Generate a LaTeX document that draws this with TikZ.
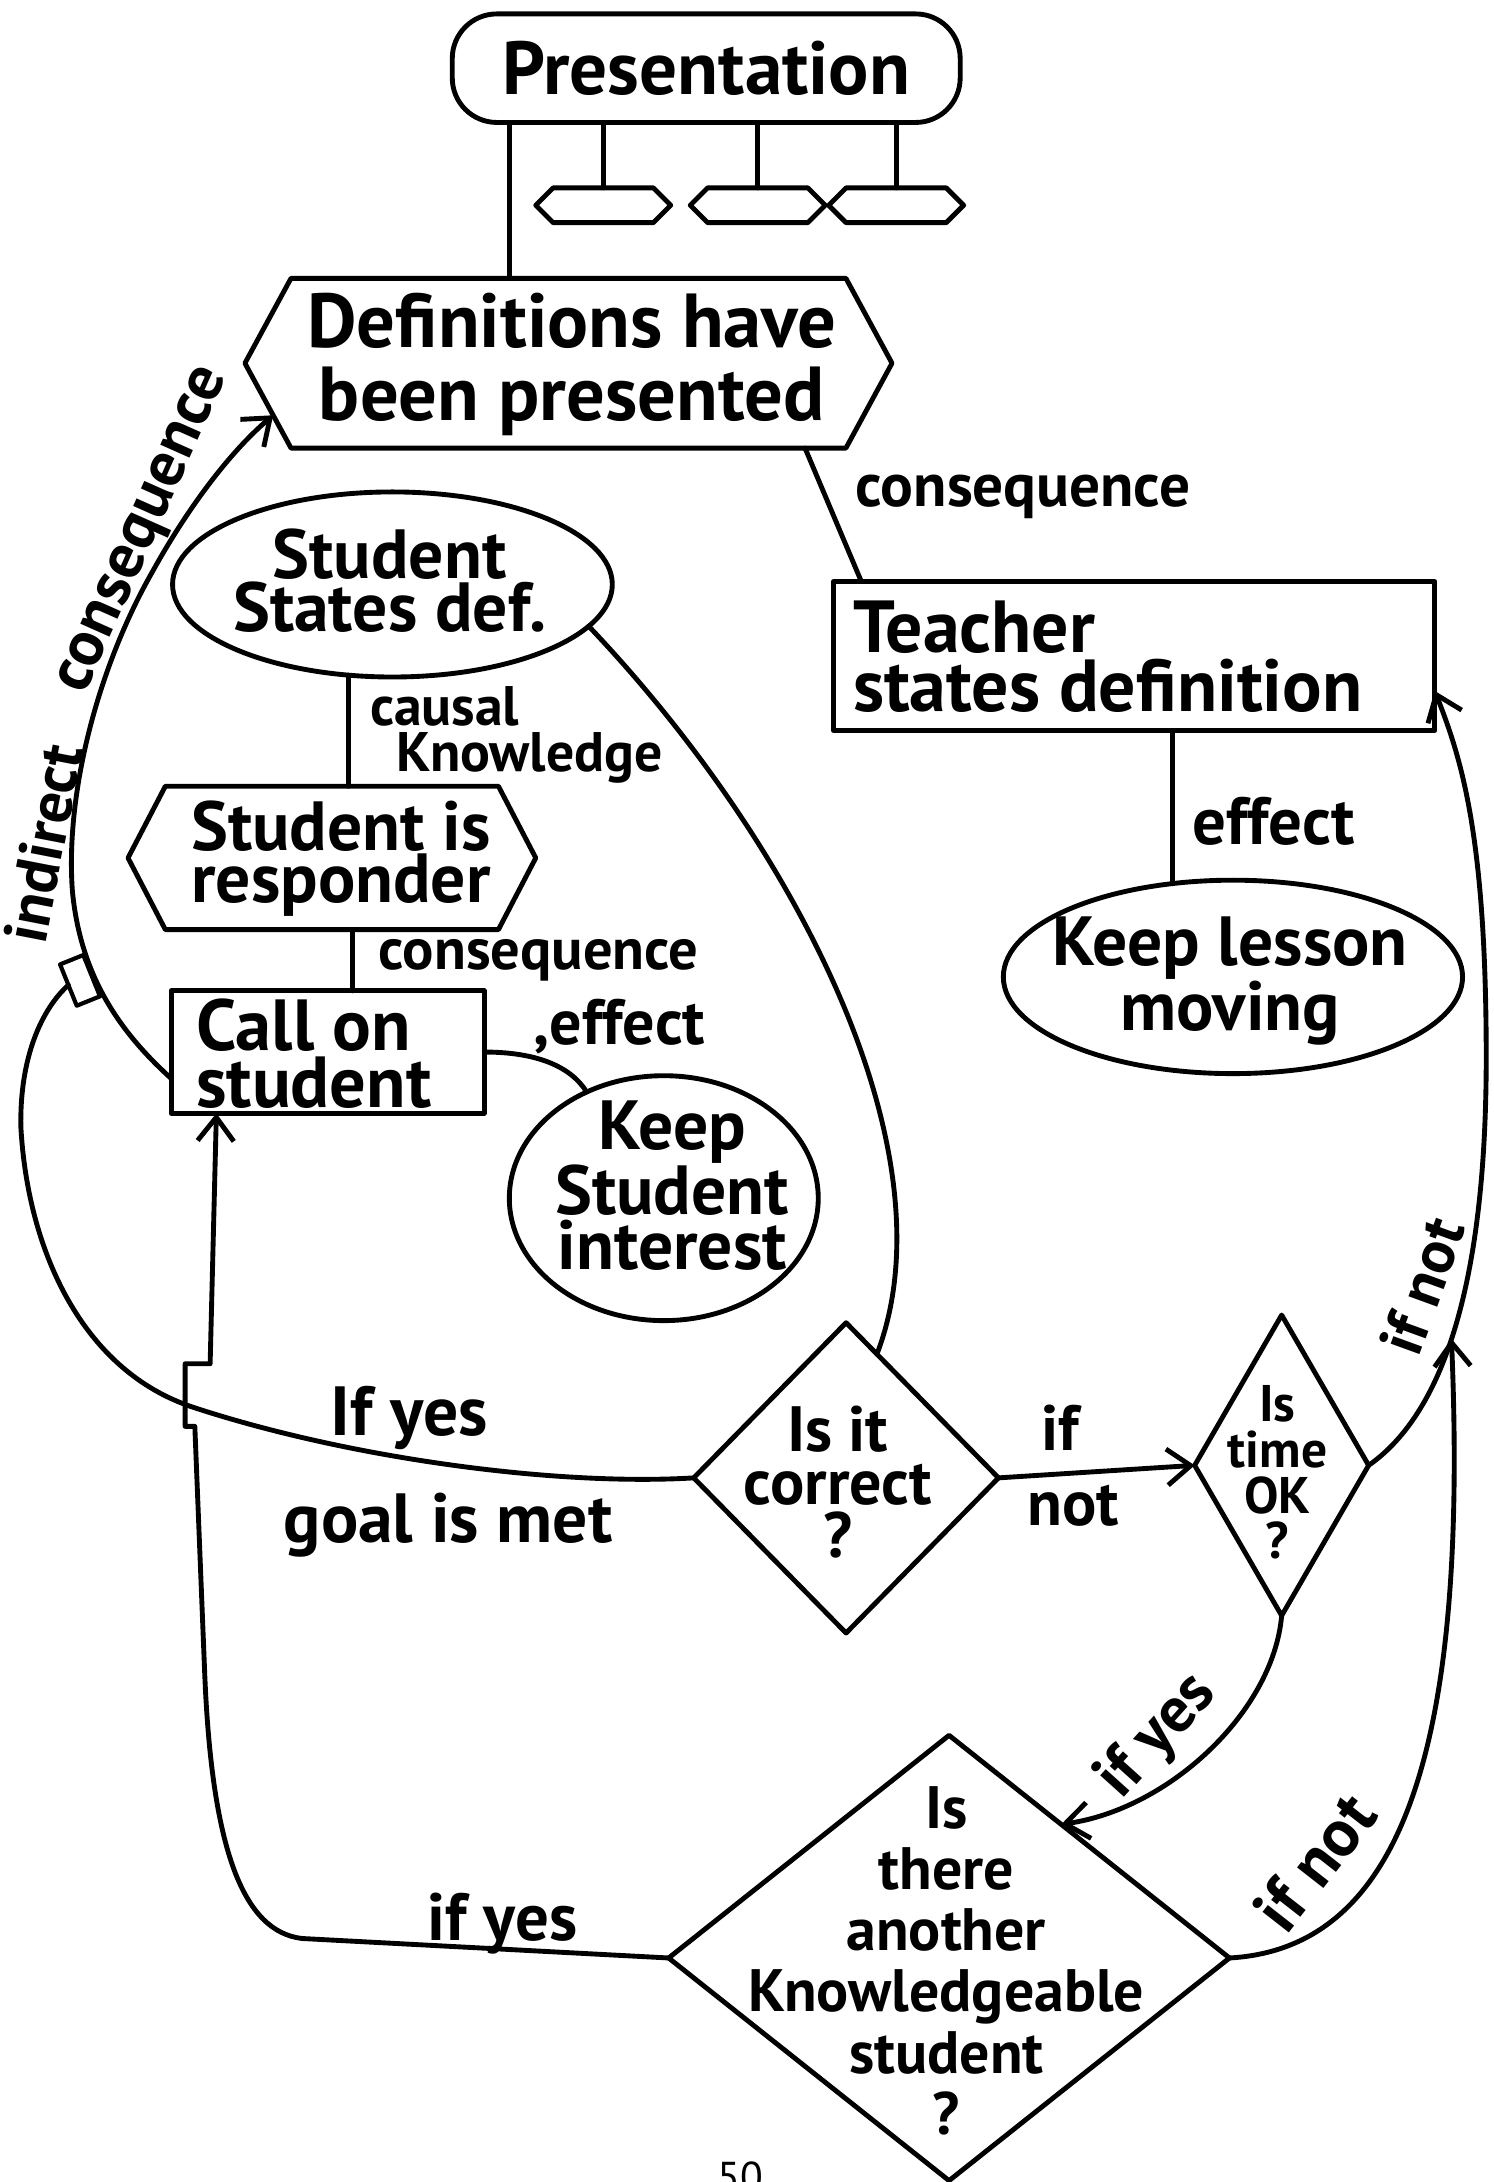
\documentclass[tikz,border=0pt]{standalone}
\usepackage{fontspec}
\setmainfont{PT Sans}
\usetikzlibrary{shapes.geometric,shapes.symbols,arrows.meta}
\tikzset{
  fs/.style 2 args={font=\bfseries\fontsize{#1}{#2}\selectfont},
  arr/.style={-{Straight Barb[length=17pt,width=26pt]}},
  hexs/.style={draw, signal, signal to=east and west, signal pointer angle=90,
     minimum width=97pt, minimum height=25pt},
  bighex/.style={draw, signal, signal to=east and west},
  box/.style={draw, rectangle},
  oval/.style={draw, ellipse},
  dia/.style={draw, diamond},
}
\begin{document}
\begin{tikzpicture}[x=1pt,y=-1pt, line width=3.5pt, line join=round, line cap=round,
  every node/.style={inner sep=0pt, outer sep=0pt}]
\useasboundingbox (0,0) rectangle (1073,1568);

% ---------- shapes ----------
\node[box, rounded corners=32pt, minimum width=365pt, minimum height=78pt] (pres) at (507.5,49) {};
\node[fs={54}{54}] (tpres) at (pres.center) {Presentation};

\node[hexs] (h1) at (433.5,147.5) {};
\node[hexs] (h2) at (544.5,147.5) {};
\node[hexs] (h3) at (644,147.5) {};

\node[bighex, signal pointer angle=123, minimum width=465pt, minimum height=122pt] (defs) at (408.5,261) {};
\node[fs={55}{52}, align=center] (tdefs) at (411,262) {Definitions have\\been presented};

\node[box, minimum width=432pt, minimum height=107pt] (teacher) at (815,471.5) {};
\node[fs={53}{42}, align=left, anchor=west] (tteacher) at (613,472) {Teacher\\states definition};

\node[oval, minimum width=330pt, minimum height=139pt] (lesson) at (886,702) {};
\node[fs={50}{40}, align=center] (tlesson) at (884,705) {Keep lesson\\moving};

\node[oval, minimum width=316pt, minimum height=133pt] (sdef) at (282,420) {};
\node[fs={50}{38}, align=center] (tsdef) at (280,417) {Student\\States def.};

\node[bighex, signal pointer angle=125, minimum width=293pt, minimum height=103pt] (resp) at (238.5,616.5) {};
\node[fs={50}{38}, align=center] (tresp) at (245,617) {Student is\\responder};

\node[box, minimum width=225pt, minimum height=88pt] (call) at (235.5,756) {};
\node[fs={52}{41}, align=left, anchor=west] (tcall) at (141,757) {Call on\\student};

\node[oval, minimum width=222pt, minimum height=176pt] (kint) at (477,861) {};
\node[fs={50}{40}, align=center] (tkint) at (483,852) {Keep\\Student\\interest};

\node[dia, minimum width=219pt, minimum height=223pt] (cor) at (608,1062) {};
\node[fs={46}{38}, align=center] (tcor) at (602,1065) {Is it\\correct\\?};

\node[dia, minimum width=125pt, minimum height=216pt] (time) at (921,1053) {};
\node[fs={37}{33}, align=center] (ttime) at (918,1058) {Is\\time\\OK\\?};

\node[dia, minimum width=403pt, minimum height=320pt] (kn) at (682,1407) {};
\node[fs={43}{44}, align=center] (tkn) at (680,1409) {Is\\there\\another\\Knowledgeable\\student\\?};

\node[box, minimum width=18pt, minimum height=32pt, rotate=22, line width=3pt] (sq) at (57.5,704.5) {};

% ---------- connectors ----------
\coordinate (cx) at (366,0);
\draw (pres.south -| cx) -- (defs.north -| cx);
\foreach \h in {h1,h2,h3} \draw (\h.north) -- (\h.north |- pres.south);

\draw ([xshift=170pt]defs.south) -- ([xshift=-196pt]teacher.north);
\node[fs={44}{44}] (lcons1) at (735,357) {consequence};

\draw (lesson.123) -- (lesson.123 |- teacher.south);
\node[fs={48}{48}] (leff1) at (915,590) {effect};

\draw (sdef.244) -- (sdef.244 |- resp.north);
\node[fs={40}{33}, align=left, anchor=west] (lcaus) at (266,528) {causal\\\hspace*{19pt}Knowledge};

\draw ([xshift=14.5pt]resp.south) -- ([xshift=14.5pt]resp.south |- call.north);
\node[fs={42}{42}] (lcons2) at (387,690) {consequence};

\draw (call.east) .. controls (385,756) and (410,766) .. (kint.126);
\node[fs={46}{46}] (leff2) at (445,738) {,effect};

\draw (sdef.-12) .. controls (575,610) and (685,830) .. (cor.76);

\draw[arr] (cor.east) -- (time.west);
\node[fs={46}{46}] (lif1) at (762,1026) {if};
\node[fs={46}{46}] (lnot1) at (771,1082) {not};

\draw[arr] (time.east) .. controls (1045,1010) and (1068,900) .. (1068,760)
   .. controls (1068,600) and (1050,545) .. ([yshift=-25pt]teacher.east);
\node[fs={44}{44}, rotate=70] (lnot2) at (1022,924) {if not};

\draw[arr] (time.south) .. controls (915,1230) and (840,1300) .. (kn.50);
\node[fs={46}{46}, rotate=48] (lyes2) at (832,1248) {if yes};

\coordinate (jr) at (1043,962);
\draw[arr] (kn.east) .. controls (1010,1400) and (1055,1250) .. (jr);
\node[fs={48}{48}, rotate=52] (lnot3) at (945,1338) {if not};

\draw[arr] (kn.west) -- (217,1393) .. controls (175,1388) and (152,1330) .. (147,1200)
   -- (140,1025) -- (133,1025) -- (133,980) -- (151,980) -- ([xshift=-80pt]call.south);
\node[fs={48}{48}] (lyes3) at (361,1382) {if yes};

\draw (cor.west) .. controls (400,1068) and (250,1048) .. (138,1011)
   .. controls (60,985) and (20,900) .. (15,810)
   .. controls (14,760) and (30,725) .. (sq.west);
\node[fs={50}{50}] (lyes1) at (294,1019) {If yes};
\node[fs={50}{50}] (lgoal) at (322,1096) {goal is met};

\coordinate (ic0) at ([yshift=-19pt]call.west);
\draw[arr] (ic0) .. controls (90,745) and (58,705) .. (52,640)
   .. controls (47,570) and (70,480) .. (110,410)
   .. controls (135,365) and (165,325) .. (defs.190);
\node[fs={44}{44}, rotate=79] (lind) at (31,606) {indirect};
\node[fs={46}{46}, rotate=66] (lcons3) at (105,382) {consequence};

\node[font=\fontsize{30}{30}\selectfont, anchor=base] (pg) at (532,1575) {50};
\end{tikzpicture}
\end{document}
